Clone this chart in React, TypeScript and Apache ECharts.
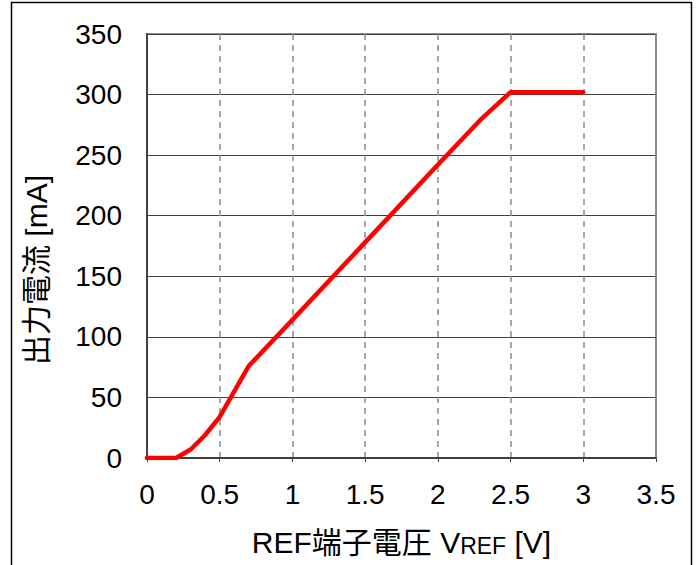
import React, { useEffect, useRef } from "react";
import * as echarts from "echarts";

const vref: number[] = [0, 0.2, 0.3, 0.4, 0.5, 0.6, 0.7, 1.0, 1.5, 2.0, 2.3, 2.5, 3.0];
const current: number[] = [0, 0, 7, 19, 34, 55, 76, 114, 178, 242, 280, 302, 302];
const xTicks = { min: 0, max: 3.5, interval: 0.5 };
const yTicks = { min: 0, max: 350, interval: 50 };
const xName = "REF端子電圧 V";
const xNameSub = "REF";
const xNameTail = " [V]";
const yName = "出力電流 [mA]";

const FONT = "'Liberation Sans', Arial, 'Noto Sans CJK JP', sans-serif";

export default function App() {
  const ref = useRef<HTMLDivElement>(null);
  useEffect(() => {
    if (!ref.current) return;
    const chart = echarts.init(ref.current, null, { renderer: "svg" });
    const data = vref.map((x, i) => [x, current[i]]);
    chart.setOption({
      animation: false,
      backgroundColor: "#ffffff",
      grid: {
        left: 147,
        right: 44,
        top: 34,
        bottom: 107,
        show: true,
        borderColor: "#8c8c8c",
        borderWidth: 2,
        backgroundColor: "transparent",
      },
      xAxis: {
        type: "value",
        min: xTicks.min,
        max: xTicks.max,
        interval: xTicks.interval,
        name: `${xName}{sub|${xNameSub}}${xNameTail}`,
        nameLocation: "middle",
        nameGap: 99,
        nameTextStyle: {
          fontFamily: FONT,
          fontSize: 30,
          color: "#000",
          verticalAlign: "bottom",
          rich: {
            sub: { fontFamily: FONT, fontSize: 23, color: "#000", verticalAlign: "bottom" },
          },
        },
        axisLine: { show: true, lineStyle: { color: "#404040", width: 2 } },
        axisTick: { show: true, inside: false, length: 4, lineStyle: { color: "#404040", width: 1 } },
        axisLabel: { fontFamily: FONT, fontSize: 28, color: "#000", margin: 22 },
        splitLine: { show: true, lineStyle: { color: "#8c8c8c", width: 1.5, type: [6, 5] } },
      },
      yAxis: {
        type: "value",
        min: yTicks.min,
        max: yTicks.max,
        interval: yTicks.interval,
        axisLine: { show: true, lineStyle: { color: "#404040", width: 2 } },
        axisTick: { show: false },
        axisLabel: { fontFamily: FONT, fontSize: 28, color: "#000", margin: 25 },
        splitLine: { show: true, lineStyle: { color: "#404040", width: 1 } },
      },
      graphic: [
        {
          type: "rect",
          shape: { x: 11.5, y: 2.5, width: 680, height: 600 },
          style: { fill: "none", stroke: "#000", lineWidth: 1.5 },
          silent: true,
        },
        {
          type: "text",
          x: 36,
          y: 270,
          rotation: Math.PI / 2,
          style: {
            text: yName,
            fontFamily: FONT,
            fontSize: 30,
            fill: "#000",
            textAlign: "center",
            textVerticalAlign: "middle",
          },
        },
      ],
      series: [
        {
          type: "line",
          data,
          showSymbol: false,
          symbol: "none",
          smooth: false,
          lineStyle: { color: "#ff0000", width: 4.5, cap: "round", join: "round" },
        },
      ],
    });
    return () => chart.dispose();
  }, []);
  return (
    <div
      ref={ref}
      style={{ position: "fixed", left: 0, top: 0, width: 700, height: 565 }}
    />
  );
}
